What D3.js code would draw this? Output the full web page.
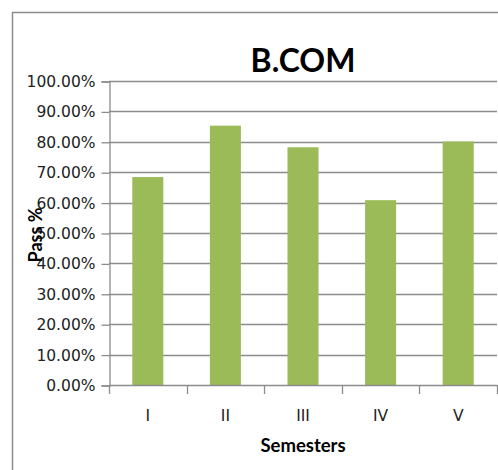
<!DOCTYPE html>
<html>
<head>
<meta charset="utf-8">
<script src="https://cdn.jsdelivr.net/npm/d3@7"></script>
<style>
  body { margin: 0; background: #fff; }
  svg { display: block; }
</style>
</head>
<body>
<div id="chart"></div>
<script>
// data
var semesters = ["I", "II", "III", "IV", "V"];
var passRate = [0.684, 0.853, 0.782, 0.608, 0.801];
var yTicks = [0, 0.1, 0.2, 0.3, 0.4, 0.5, 0.6, 0.7, 0.8, 0.9, 1.0];

const width = 498, height = 470;
var margin = {top: 81, right: 1, bottom: 85, left: 109};

var svg = d3.select("#chart").append("svg")
    .attr("width", width)
    .attr("height", height);

// outer chart frame (runs off the right and bottom edges)
svg.append("rect")
    .attr("x", 12.5).attr("y", 12.5)
    .attr("width", width + 20).attr("height", height + 20)
    .attr("fill", "none")
    .attr("stroke", "#8c8c8c")
    .attr("stroke-width", 1.5);

var x = d3.scaleBand()
    .domain(semesters)
    .range([margin.left, width - margin.right])
    .paddingInner(0.6)
    .paddingOuter(0.3);

var y = d3.scaleLinear()
    .domain([0, 1])
    .range([height - margin.bottom, margin.top]);

// gridlines
svg.append("g")
    .selectAll("line")
    .data(yTicks.slice(1))
    .join("line")
    .attr("x1", margin.left).attr("x2", width - margin.right)
    .attr("y1", d => Math.round(y(d)) + 0.5)
    .attr("y2", d => Math.round(y(d)) + 0.5)
    .attr("stroke", "#8c8c8c")
    .attr("stroke-width", 1.3);

// bars
svg.append("g")
    .selectAll("rect")
    .data(passRate)
    .join("rect")
    .attr("x", (d, i) => x(semesters[i]))
    .attr("y", d => y(d))
    .attr("width", x.bandwidth())
    .attr("height", d => y(0) - y(d))
    .attr("fill", "#9bbb59");

// y axis
var yAxis = d3.axisLeft(y)
    .tickValues(yTicks)
    .tickFormat(d => (d * 100).toFixed(2) + "%")
    .tickSize(8)
    .tickPadding(6);

var gy = svg.append("g")
    .attr("transform", "translate(" + (margin.left + 0.5) + ",0.5)")
    .call(yAxis);
gy.select(".domain").attr("stroke", "#8c8c8c").attr("stroke-width", 1.3);
gy.selectAll(".tick line").attr("stroke", "#8c8c8c").attr("stroke-width", 1.3);
gy.selectAll(".tick text")
    .attr("fill", "#222")
    .style("font-family", "DejaVu Sans")
    .style("font-size", "15.5px");

// x axis, ticks sit between categories like excel
var xAxis = d3.axisBottom(x).tickSize(0).tickPadding(24);
var gx = svg.append("g")
    .attr("transform", "translate(0," + (y(0) + 0.5) + ")")
    .call(xAxis);
gx.select(".domain").remove();
gx.selectAll(".tick text")
    .attr("fill", "#222")
    .style("font-family", "DejaVu Sans")
    .style("font-size", "15.5px");

svg.append("line")
    .attr("x1", margin.left).attr("x2", width - margin.right)
    .attr("y1", y(0) + 0.5).attr("y2", y(0) + 0.5)
    .attr("stroke", "#8c8c8c").attr("stroke-width", 1.3);

var step = x.step();
svg.append("g")
    .selectAll("line")
    .data(d3.range(semesters.length + 1))
    .join("line")
    .attr("x1", i => Math.round(margin.left + i * step) + 0.5)
    .attr("x2", i => Math.round(margin.left + i * step) + 0.5)
    .attr("y1", y(0))
    .attr("y2", y(0) + 9)
    .attr("stroke", "#8c8c8c").attr("stroke-width", 1.3);

// titles
svg.append("text")
    .attr("x", (margin.left + width - margin.right) / 2)
    .attr("y", 72)
    .attr("text-anchor", "middle")
    .style("font-family", "Lato")
    .style("font-weight", "bold")
    .style("font-size", "32px")
    .text("B.COM");

svg.append("text")
    .attr("x", (margin.left + width - margin.right) / 2)
    .attr("y", 452)
    .attr("text-anchor", "middle")
    .style("font-family", "Lato")
    .style("font-weight", "bold")
    .style("font-size", "18.5px")
    .text("Semesters");

svg.append("text")
    .attr("transform", "translate(42," + (y(0.5) + 2) + ") rotate(-90)")
    .attr("text-anchor", "middle")
    .style("font-family", "Lato")
    .style("font-weight", "bold")
    .style("font-size", "18px")
    .text("Pass %");
</script>
</body>
</html>
